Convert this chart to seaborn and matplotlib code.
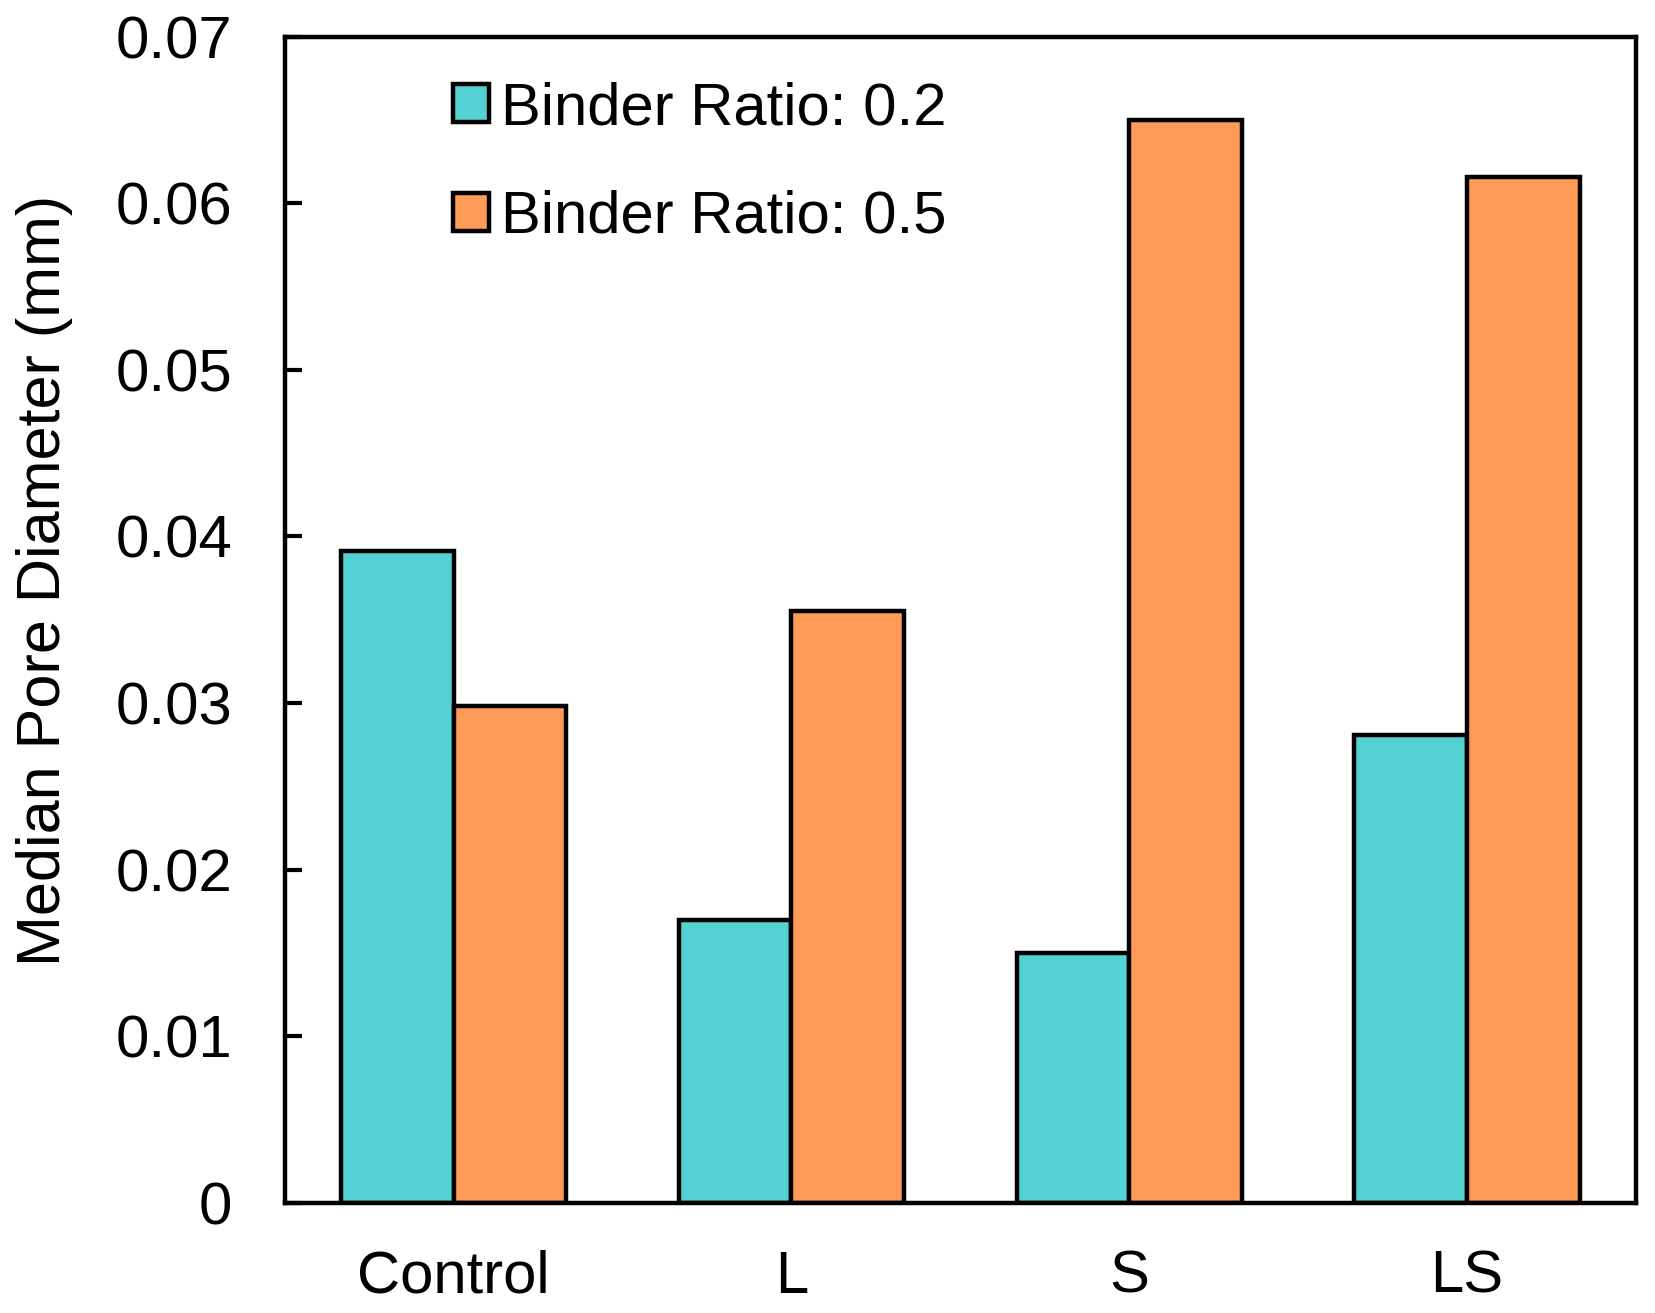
import pandas as pd
import seaborn as sns
import matplotlib.pyplot as plt

# data
groups = ["Control", "L", "S", "LS"]
ratio_02 = [0.0391, 0.0170, 0.0150, 0.0281]
ratio_05 = [0.0298, 0.0355, 0.0650, 0.0616]
series_names = ["Binder Ratio: 0.2", "Binder Ratio: 0.5"]
colors = ["#53D1D3", "#FF9B57"]
y_ticks = [0, 0.01, 0.02, 0.03, 0.04, 0.05, 0.06, 0.07]
y_tick_labels = ["0", "0.01", "0.02", "0.03", "0.04", "0.05", "0.06", "0.07"]

df = pd.DataFrame({
    "group": groups * 2,
    "value": ratio_02 + ratio_05,
    "series": [series_names[0]] * 4 + [series_names[1]] * 4,
})

sns.set_style("white")
plt.rcParams['font.family'] = ['Liberation Sans', 'DejaVu Sans']
plt.rcParams['text.color'] = 'black'
plt.rcParams['axes.labelcolor'] = 'black'
plt.rcParams['xtick.color'] = 'black'
plt.rcParams['ytick.color'] = 'black'

fig = plt.figure(figsize=(16.55, 13.13), dpi=100)
ax = fig.add_axes([0.172, 0.084, 0.8165, 0.888])

sns.barplot(
    data=df,
    x="group",
    y="value",
    hue="series",
    palette=colors,
    width=0.667,
    edgecolor="black",
    linewidth=3.2,
    saturation=1,
    ax=ax,
)

ax.set_ylim(0, 0.07)
ax.set_xlim(-0.5, 3.5)
ax.set_yticks(y_ticks)
ax.set_yticklabels(y_tick_labels)
ax.tick_params(axis="y", direction="in", length=12, width=3, pad=38,
               labelsize=43, left=True)
ax.tick_params(axis="x", length=0, pad=34, labelsize=43)
ax.set_xlabel("")
ax.set_ylabel("Median Pore Diameter (mm)", fontsize=44)
ax.yaxis.set_label_coords(-0.157, 0.534)

for s in ax.spines.values():
    s.set_linewidth(3.2)
    s.set_color("black")

leg = ax.legend(
    loc="upper left",
    bbox_to_anchor=(0.085, 1.008),
    frameon=False,
    fontsize=43,
    handlelength=0.6,
    handleheight=0.6,
    handletextpad=0.2,
    labelspacing=0.9,
)
for h in leg.legend_handles:
    h.set_linewidth(3.2)
    h.set_edgecolor("black")

fig.savefig("out.png", dpi=100)
